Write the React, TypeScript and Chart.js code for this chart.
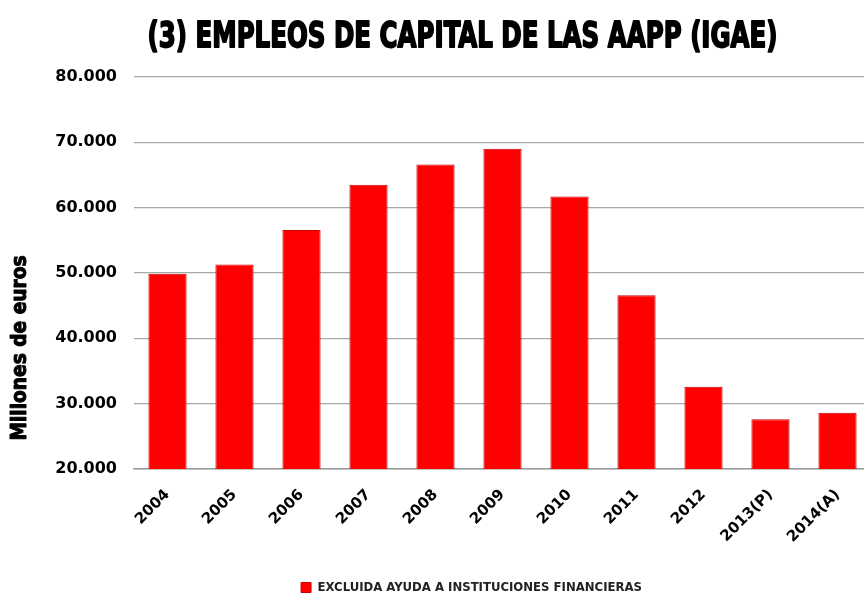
import React, { useEffect, useRef } from "react";
import { Chart, registerables } from "chart.js";

Chart.register(...registerables);

const categories = ["2004", "2005", "2006", "2007", "2008", "2009", "2010", "2011", "2012", "2013(P)", "2014(A)"];
const values = [49900, 51300, 56600, 63500, 66600, 69000, 61700, 46600, 32600, 27600, 28600];
const seriesLabel = "EXCLUIDA AYUDA A INSTITUCIONES FINANCIERAS";
const chartTitle = "(3) EMPLEOS DE CAPITAL DE LAS AAPP (IGAE)";
const yAxisTitle = "Millones de euros";
const yMin = 20000;
const yMax = 80000;
const yStep = 10000;

const CONDENSED = "'Liberation Sans Narrow', 'DejaVu Sans Condensed', sans-serif";

function drawScaledText(ctx: CanvasRenderingContext2D, text: string, x: number, y: number, targetWidth: number, rotate: number) {
  ctx.save();
  ctx.translate(x, y);
  ctx.rotate(rotate);
  const w = ctx.measureText(text).width;
  ctx.scale(targetWidth / w, 1);
  ctx.strokeText(text, 0, 0);
  ctx.fillText(text, 0, 0);
  ctx.restore();
}

const titlesPlugin = {
  id: "customTitles",
  afterLayout(chart: any) {
    const lg = chart.legend;
    if (lg) {
      lg.left += 36;
      lg.right += 36;
      lg.top += 5;
      lg.bottom += 5;
    }
  },
  afterDraw(chart: any) {
    const ctx: CanvasRenderingContext2D = chart.ctx;
    const ca = chart.chartArea;
    ctx.save();
    ctx.fillStyle = "#000";
    ctx.strokeStyle = "#000";
    ctx.lineJoin = "round";
    // main title
    ctx.font = `bold 36px ${CONDENSED}`;
    ctx.textAlign = "center";
    ctx.textBaseline = "alphabetic";
    ctx.lineWidth = 1.8;
    drawScaledText(ctx, chartTitle, (ca.left + ca.right) / 2 - 40, ca.top - 30, 630, 0);
    // y axis title
    ctx.font = `bold 22px ${CONDENSED}`;
    ctx.lineWidth = 1.0;
    ctx.textBaseline = "middle";
    drawScaledText(ctx, yAxisTitle, 20, ca.bottom - 121, 185, -Math.PI / 2);
    ctx.restore();
  },
};

export default function App() {
  const ref = useRef<HTMLCanvasElement>(null);
  useEffect(() => {
    if (!ref.current) return;
    const chart = new Chart(ref.current, {
      type: "bar",
      data: {
        labels: categories,
        datasets: [
          {
            label: seriesLabel,
            data: values,
            backgroundColor: "#ff0000",
            borderColor: "#cc0000",
            borderWidth: 1,
            barPercentage: 0.57,
            categoryPercentage: 1,
          },
        ],
      },
      options: {
        animation: false,
        responsive: false,
        layout: { padding: { top: 77, right: 9, left: 0, bottom: 0 } },
        scales: {
          x: {
            grid: { display: false, drawTicks: false },
            border: { display: true, color: "#999999", width: 1.5 },
            ticks: {
              minRotation: 45,
              maxRotation: 45,
              padding: 17,
              color: "#000",
              font: { family: "'DejaVu Sans', sans-serif", size: 15, weight: "bold" },
            },
            afterFit: (scale: any) => {
              scale.height = 97;
            },
          },
          y: {
            min: yMin,
            max: yMax,
            ticks: {
              stepSize: yStep,
              padding: 17,
              color: "#000",
              font: { family: "'DejaVu Sans', sans-serif", size: 16, weight: "bold" },
              callback: (v: any) => Number(v).toLocaleString("de-DE"),
            },
            grid: { color: "#a8a8a8", lineWidth: 1.3, drawTicks: false },
            border: { display: false },
            afterFit: (scale: any) => {
              scale.width = 134;
            },
          },
        },
        plugins: {
          title: { display: false },
          tooltip: { enabled: false },
          legend: {
            display: true,
            position: "bottom",
            labels: {
              boxWidth: 10,
              boxHeight: 10,
              padding: 10,
              color: "#222",
              font: { family: CONDENSED, size: 13, weight: "bold" },
            },
          },
        },
      },
      plugins: [titlesPlugin],
    });
    return () => chart.destroy();
  }, []);
  return (
    <div style={{ position: "fixed", left: 0, top: 0, width: 864, height: 599, overflow: "hidden", background: "#fff" }}>
      <canvas ref={ref} width={880} height={599} style={{ display: "block", width: 880, height: 599 }} />
    </div>
  );
}
